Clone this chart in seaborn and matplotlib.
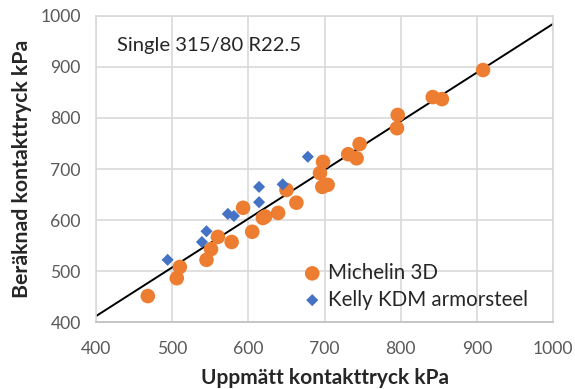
import numpy as np
import pandas as pd
import matplotlib
matplotlib.use("Agg")
import matplotlib.pyplot as plt
import seaborn as sns

# Measured vs. calculated contact pressure (kPa)
michelin_measured = [468, 506, 510, 545, 551, 560, 578, 593, 605, 619, 622, 639, 650,
                     663, 694, 698, 697, 704, 731, 742, 746, 795, 796, 842, 854, 908]
michelin_calculated = [451, 486, 508, 522, 543, 567, 557, 624, 577, 604, 607, 614, 659,
                       634, 692, 714, 665, 669, 729, 721, 749, 780, 806, 841, 837, 894]
kelly_measured = [494, 539, 545, 573, 581, 614, 614, 645, 678]
kelly_calculated = [522, 557, 578, 612, 608, 635, 665, 670, 724]

series_names = ["Michelin 3D", "Kelly KDM armorsteel"]
axis_ticks = [400, 500, 600, 700, 800, 900, 1000]

sns.set_theme(style="white")
plt.rcParams["font.family"] = ["Lato", "DejaVu Sans"]

df = pd.concat([
    pd.DataFrame({"x": michelin_measured, "y": michelin_calculated, "tyre": series_names[0]}),
    pd.DataFrame({"x": kelly_measured, "y": kelly_calculated, "tyre": series_names[1]}),
])

fig = plt.figure(figsize=(5.75, 3.89), dpi=100)
ax = fig.add_axes([0.167, 0.172, 0.795, 0.787])

orange = "#ED7D31"
blue = "#4472C4"

# Trend line fitted to all measurements
coef = np.polyfit(df["x"], df["y"], 1)
line_x = np.array([axis_ticks[0], axis_ticks[-1]])
ax.plot(line_x, np.polyval(coef, line_x), color="black", lw=1.4, zorder=2)

sns.scatterplot(data=df[df.tyre == series_names[0]], x="x", y="y", ax=ax,
                color=orange, s=110, marker="o", edgecolor="none",
                label=series_names[0], zorder=3)
sns.scatterplot(data=df[df.tyre == series_names[1]], x="x", y="y", ax=ax,
                color=blue, s=38, marker="D", edgecolor="none",
                label=series_names[1], zorder=3)

ax.set_xlim(axis_ticks[0], axis_ticks[-1])
ax.set_ylim(axis_ticks[0], axis_ticks[-1])
ax.set_xticks(axis_ticks)
ax.set_yticks(axis_ticks)
ax.grid(True, color="#D9D9D9", lw=1.2)
ax.set_axisbelow(True)
for side in ["top", "right", "left"]:
    ax.spines[side].set_color("#D9D9D9")
    ax.spines[side].set_linewidth(1.2)
ax.spines["bottom"].set_color("#BFBFBF")
ax.spines["bottom"].set_linewidth(1.2)
ax.tick_params(axis="both", length=0, labelsize=12.6, labelcolor="#595959")
ax.tick_params(axis="x", pad=13.5)
ax.tick_params(axis="y", pad=11)

ax.set_xlabel("Uppmätt kontakttryck kPa", fontsize=15.0, fontweight="bold", labelpad=8)
ax.set_ylabel("Beräknad kontakttryck kPa", fontsize=15.3, fontweight="bold", labelpad=6)

ax.text(0.046, 0.905, "Single 315/80 R22.5", transform=ax.transAxes,
        fontsize=14.6, color="#262626", va="center", ha="left")

leg = ax.legend(loc="lower left", bbox_to_anchor=(0.419, -0.006), frameon=False,
                fontsize=14.8, handlelength=1.0, handletextpad=0.25,
                labelspacing=0.33, borderaxespad=0.3)
for t in leg.get_texts():
    t.set_color("#262626")

fig.savefig("out.png", dpi=100)
